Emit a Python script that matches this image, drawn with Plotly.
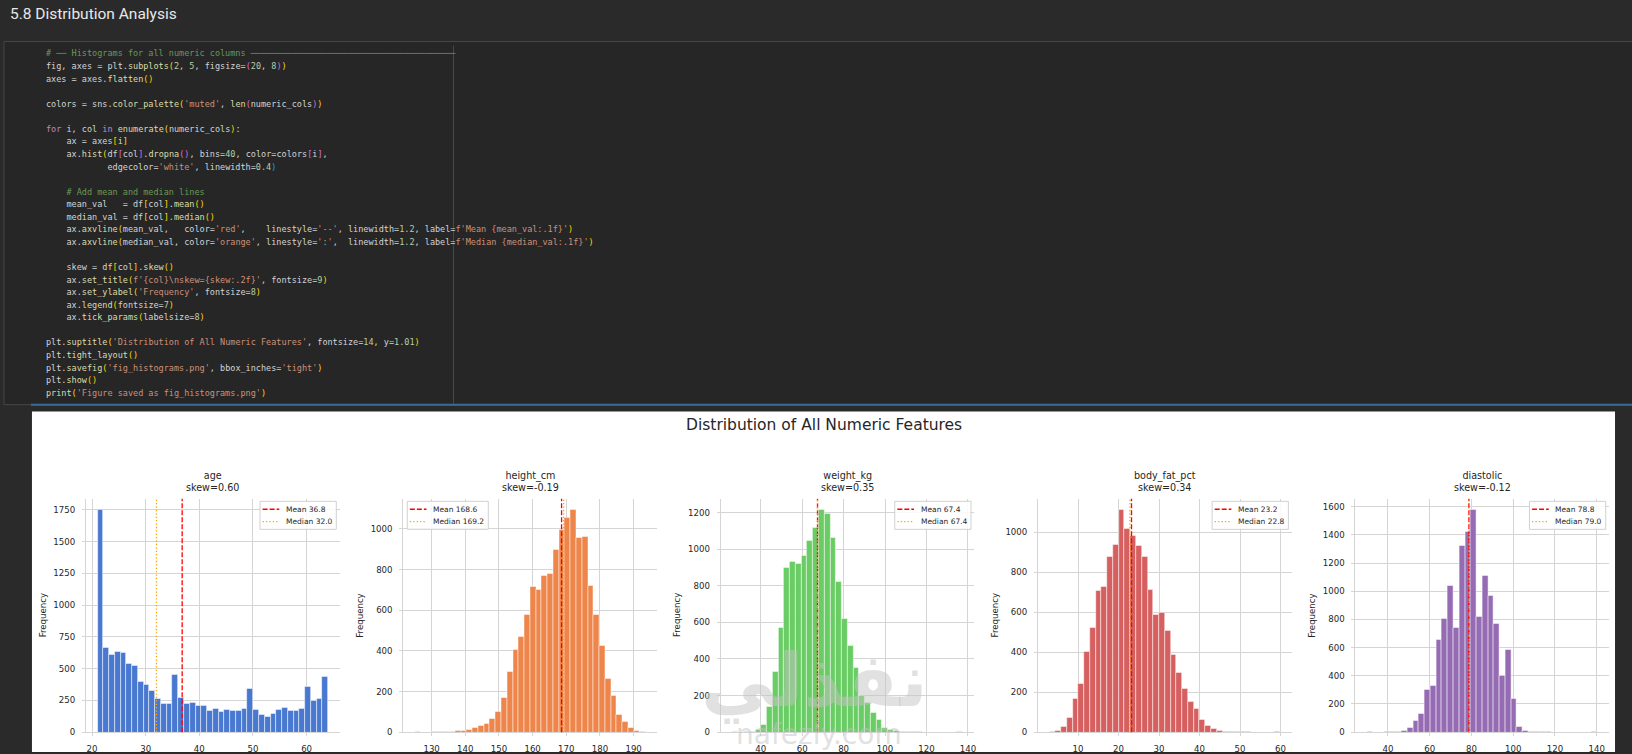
import re
import plotly.graph_objects as go

# ---- values ------------------------------------------------------------
features = ['age', 'height_cm', 'weight_kg', 'body_fat_pct', 'diastolic']
skews = [0.60, -0.19, 0.35, 0.34, -0.12]
means = [36.8, 168.6, 67.4, 23.2, 78.8]
medians = [32.0, 169.2, 67.4, 22.8, 79.0]
data_min = [21.0, 125.0, 26.2, 2.95, 29.9]
data_max = [64.0, 193.5, 137.5, 59.9, 140.4]

# 40 bins each
age_counts = [1750, 665, 610, 635, 625, 540, 520, 400, 370, 330,
              265, 225, 225, 455, 275, 225, 235, 205, 205, 170,
              185, 165, 175, 170, 170, 185, 340, 180, 135, 125,
              145, 175, 190, 170, 170, 185, 360, 245, 260, 435]
height_counts = [1, 0, 0, 1, 1, 2, 3, 5, 9, 14,
                 22, 32, 40, 67, 99, 172, 296, 408, 470, 576,
                 717, 702, 772, 779, 896, 995, 1055, 1094, 958, 964,
                 722, 576, 428, 263, 182, 86, 54, 24, 8, 2]
weight_counts = [1, 0, 2, 5, 14, 40, 141, 330, 570, 897,
                 930, 922, 963, 1048, 1120, 1215, 1195, 1060, 823, 620,
                 472, 350, 198, 160, 108, 68, 25, 12, 6, 3,
                 2, 1, 1, 0, 0, 0, 0, 0, 0, 1]
body_fat_counts = [2, 8, 28, 71, 167, 241, 401, 521, 707, 729,
                   879, 938, 1113, 1017, 983, 933, 879, 711, 589, 597,
                   510, 389, 297, 219, 152, 117, 64, 32, 16, 9,
                   5, 3, 2, 1, 1, 0, 0, 0, 0, 1]
diastolic_counts = [1, 0, 0, 1, 3, 6, 14, 35, 80, 132,
                    304, 332, 655, 803, 1041, 744, 1323, 1422, 1579, 819,
                    1112, 971, 768, 404, 584, 240, 40, 12, 5, 2,
                    1, 1, 0, 0, 0, 0, 0, 0, 0, 1]
counts = [age_counts, height_counts, weight_counts, body_fat_counts, diastolic_counts]

x_dtick = [10, 10, 20, 10, 20]
y_dtick = [250, 200, 200, 200, 200]
colors = ['#4878d0', '#ee854a', '#6acc64', '#d65f5f', '#956cb4']   # seaborn 'muted'
legend_side = ['right', 'left', 'right', 'right', 'right']

code_lines = [
    "# ── Histograms for all numeric columns " + "─" * 40,
    "fig, axes = plt.subplots(2, 5, figsize=(20, 8))",
    "axes = axes.flatten()",
    "",
    "colors = sns.color_palette('muted', len(numeric_cols))",
    "",
    "for i, col in enumerate(numeric_cols):",
    "    ax = axes[i]",
    "    ax.hist(df[col].dropna(), bins=40, color=colors[i],",
    "            edgecolor='white', linewidth=0.4)",
    "",
    "    # Add mean and median lines",
    "    mean_val   = df[col].mean()",
    "    median_val = df[col].median()",
    "    ax.axvline(mean_val,   color='red',    linestyle='--', linewidth=1.2, label=f'Mean {mean_val:.1f}')",
    "    ax.axvline(median_val, color='orange', linestyle=':',  linewidth=1.2, label=f'Median {median_val:.1f}')",
    "",
    "    skew = df[col].skew()",
    "    ax.set_title(f'{col}\\nskew={skew:.2f}', fontsize=9)",
    "    ax.set_ylabel('Frequency', fontsize=8)",
    "    ax.legend(fontsize=7)",
    "    ax.tick_params(labelsize=8)",
    "",
    "plt.suptitle('Distribution of All Numeric Features', fontsize=14, y=1.01)",
    "plt.tight_layout()",
    "plt.savefig('fig_histograms.png', bbox_inches='tight')",
    "plt.show()",
    "print('Figure saved as fig_histograms.png')",
]

# ---- page geometry (pixels) ---------------------------------------------
W, H = 1632, 754
AX_LEFT, AX_PITCH, AX_W = 86, 317.75, 254
AX_TOP, AX_BOT = 504, 740
TXT = '#262626'
GRID = '#d5d5d5'
FONT = 'DejaVu Sans'
PAGE_BG = '#2a2a2b'


def px(x):
    return x / W


def py(y):
    return 1 - y / H


# DejaVu Sans advance widths, used to size the small legend boxes
DV = {'M': .863, 'e': .615, 'a': .613, 'n': .634, 'd': .635, 'i': .278, ' ': .318, '.': .318}


def text_w(s, fs):
    return sum(DV.get(c, .636) for c in s) * fs


TOKEN = re.compile(r"(?P<com>#.*)|(?P<str>f?'[^']*')|(?P<kw>\b(?:for|in)\b)"
                   r"|(?P<num>\b\d+(?:\.\d+)?)|(?P<fn>[A-Za-z_]\w*(?=\())"
                   r"|(?P<name>[A-Za-z_]\w*)|(?P<br>[()\[\]])|(?P<txt>.)")
SYN = {'com': '#6a9955', 'str': '#ce9178', 'kw': '#c586c0', 'num': '#b5cea8',
       'fn': '#dcdcaa', 'name': '#d4d4d4', 'txt': '#d4d4d4'}
BRACKETS = ['#ffd700', '#da70d6', '#179fff']


def highlight(line):
    parts, depth = [], 0
    for m in TOKEN.finditer(line):
        kind, tok = m.lastgroup, m.group()
        if kind == 'br':
            if tok in '([':
                color = BRACKETS[depth % 3]
                depth += 1
            else:
                depth -= 1
                color = BRACKETS[depth % 3]
        else:
            color = SYN[kind]
        tok = tok.replace(' ', '\u00a0')
        if parts and parts[-1][0] == color:
            parts[-1][1] += tok
        else:
            parts.append([color, tok])
    return ''.join(f'<span style="color:{c}">{t}</span>' for c, t in parts)


fig = go.Figure()
shapes = []
annotations = []

# notebook chrome: code cell, ruler, output area
shapes.append(dict(type='rect', xref='paper', yref='paper', x0=px(4), x1=px(1640), y0=py(409), y1=py(42),
                   fillcolor='#262627', line=dict(color='#474747', width=1), layer='below'))
shapes.append(dict(type='line', xref='paper', yref='paper', x0=px(454), x1=px(454), y0=py(408), y1=py(46),
                   line=dict(color='#4a4a4a', width=1), layer='below'))
shapes.append(dict(type='line', xref='paper', yref='paper', x0=px(31), x1=px(1640), y0=py(409), y1=py(409),
                   line=dict(color='#3a6c9a', width=2), layer='below'))
shapes.append(dict(type='rect', xref='paper', yref='paper', x0=px(32), x1=px(1617), y0=py(760), y1=py(416),
                   fillcolor='white', line=dict(width=0), layer='below'))

annotations.append(dict(text='5.8 Distribution Analysis', xref='paper', yref='paper', x=px(8), y=py(14),
                        xanchor='left', yanchor='middle', showarrow=False,
                        font=dict(family='Roboto', size=15.5, color='#e8e8e8')))
for n, line in enumerate(code_lines):
    if not line:
        continue
    annotations.append(dict(text=highlight(line), xref='paper', yref='paper', x=px(44), y=py(54 + 12.7 * n),
                            xanchor='left', yanchor='middle', showarrow=False, align='left',
                            font=dict(family='DejaVu Sans Mono', size=8.5, color='#d4d4d4')))

annotations.append(dict(text='Distribution of All Numeric Features', xref='paper', yref='paper',
                        x=px(825), y=py(430), xanchor='center', yanchor='middle', showarrow=False,
                        font=dict(family=FONT, size=15.5, color=TXT)))

# watermark on the screenshot
annotations.append(dict(text='<b>نفذلي</b>', xref='paper', yref='paper', x=px(815), y=py(688),
                        xanchor='center', yanchor='middle', showarrow=False,
                        font=dict(family='DejaVu Sans', size=74, color='rgba(195,195,195,0.5)')))
annotations.append(dict(text='nafezly.com', xref='paper', yref='paper', x=px(820), y=py(742),
                        xanchor='center', yanchor='middle', showarrow=False,
                        font=dict(family='DejaVu Sans', size=28, color='rgba(195,195,195,0.5)')))

for i, col in enumerate(features):
    k = '' if i == 0 else str(i + 1)
    left = AX_LEFT + AX_PITCH * i
    right = left + AX_W
    lo, hi = data_min[i], data_max[i]
    nb = len(counts[i])
    bw = (hi - lo) / nb
    centers = [lo + bw * (j + 0.5) for j in range(nb)]

    fig.add_trace(go.Bar(
        x=centers, y=counts[i], width=bw, xaxis='x' + k, yaxis='y' + k,
        marker=dict(color=colors[i], line=dict(color='white', width=0.5)),
        showlegend=False, name=col,
        hovertemplate=f'{col}: %{{x:.1f}}<br>Frequency: %{{y}}<extra></extra>'
    ))

    span = hi - lo
    fig.layout['xaxis' + k] = dict(
        domain=[px(left), px(right)], anchor='y' + k,
        range=[lo - 0.05 * span, hi + 0.05 * span], tick0=0, dtick=x_dtick[i],
        showgrid=True, gridcolor=GRID, gridwidth=1, zeroline=False,
        showline=True, linecolor=GRID, linewidth=1,
        ticks='outside', ticklen=3, tickcolor=GRID, ticklabelstandoff=6,
        tickfont=dict(family=FONT, size=8.6, color=TXT))
    fig.layout['yaxis' + k] = dict(
        domain=[py(AX_BOT), py(AX_TOP)], anchor='x' + k,
        range=[0, max(counts[i]) * 1.05], dtick=y_dtick[i],
        showgrid=True, gridcolor=GRID, gridwidth=1, zeroline=False,
        showline=True, linecolor=GRID, linewidth=1,
        ticks='outside', ticklen=3, tickcolor=GRID, ticklabelstandoff=5,
        tickfont=dict(family=FONT, size=8.6, color=TXT))

    # mean / median reference lines
    shapes.append(dict(type='line', xref='x' + k, yref=f'y{k} domain', x0=means[i], x1=means[i], y0=0, y1=1,
                       line=dict(color='red', width=1.3, dash='5px,2px')))
    shapes.append(dict(type='line', xref='x' + k, yref=f'y{k} domain', x0=medians[i], x1=medians[i], y0=0, y1=1,
                       line=dict(color='orange', width=1.3, dash='1.3px,2.1px')))

    # subplot title and y label
    annotations.append(dict(text=f'{col}<br>skew={skews[i]:.2f}', xref='paper', yref='paper',
                            x=px((left + right) / 2), y=py(AX_TOP - 4), xanchor='center', yanchor='bottom',
                            showarrow=False, font=dict(family=FONT, size=9.6, color=TXT)))
    annotations.append(dict(text='Frequency', xref='paper', yref='paper', x=px(left - 43), y=py(622),
                            xanchor='center', yanchor='middle', textangle=-90, showarrow=False,
                            font=dict(family=FONT, size=8.6, color=TXT)))

    # small matplotlib-style legend box
    labels = [f'Mean {means[i]:.1f}', f'Median {medians[i]:.1f}']
    fs = 7.5
    bw_px = 25 + max(text_w(s, fs) for s in labels) + 5
    if legend_side[i] == 'right':
        x1 = right - 3.3
        x0 = x1 - bw_px
    else:
        x0 = left + 4
        x1 = x0 + bw_px
    y0 = AX_TOP + 2.7
    y1 = y0 + 28.3
    shapes.append(dict(type='rect', xref='paper', yref='paper', x0=px(x0), x1=px(x1), y0=py(y1), y1=py(y0),
                       fillcolor='rgba(255,255,255,0.85)', line=dict(color='#d0d0d0', width=1)))
    for r, (lab, color, dash) in enumerate(zip(labels, ['red', 'orange'], ['5px,2px', '1.3px,2.1px'])):
        yy = y0 + 8 + 12.6 * r
        shapes.append(dict(type='line', xref='paper', yref='paper', x0=px(x0 + 2.6), x1=px(x0 + 19.3),
                           y0=py(yy), y1=py(yy), line=dict(color=color, width=1.3, dash=dash)))
        annotations.append(dict(text=lab, xref='paper', yref='paper', x=px(x0 + 24), y=py(yy),
                                xanchor='left', yanchor='middle', showarrow=False,
                                font=dict(family=FONT, size=fs, color=TXT)))

fig.update_layout(
    width=W, height=H,
    margin=dict(l=0, r=0, t=0, b=0),
    paper_bgcolor=PAGE_BG,
    plot_bgcolor='white',
    bargap=0,
    showlegend=False,
    shapes=shapes,
    annotations=annotations,
    font=dict(family=FONT, color=TXT),
)

# drop the browser's default 8px body margin so the figure fills the window
page_css = ("document.body.style.margin='0';document.body.style.overflow='hidden';"
            f"document.body.style.background='{PAGE_BG}';")
fig.write_html('out.html', config={'displayModeBar': False}, post_script=page_css)
